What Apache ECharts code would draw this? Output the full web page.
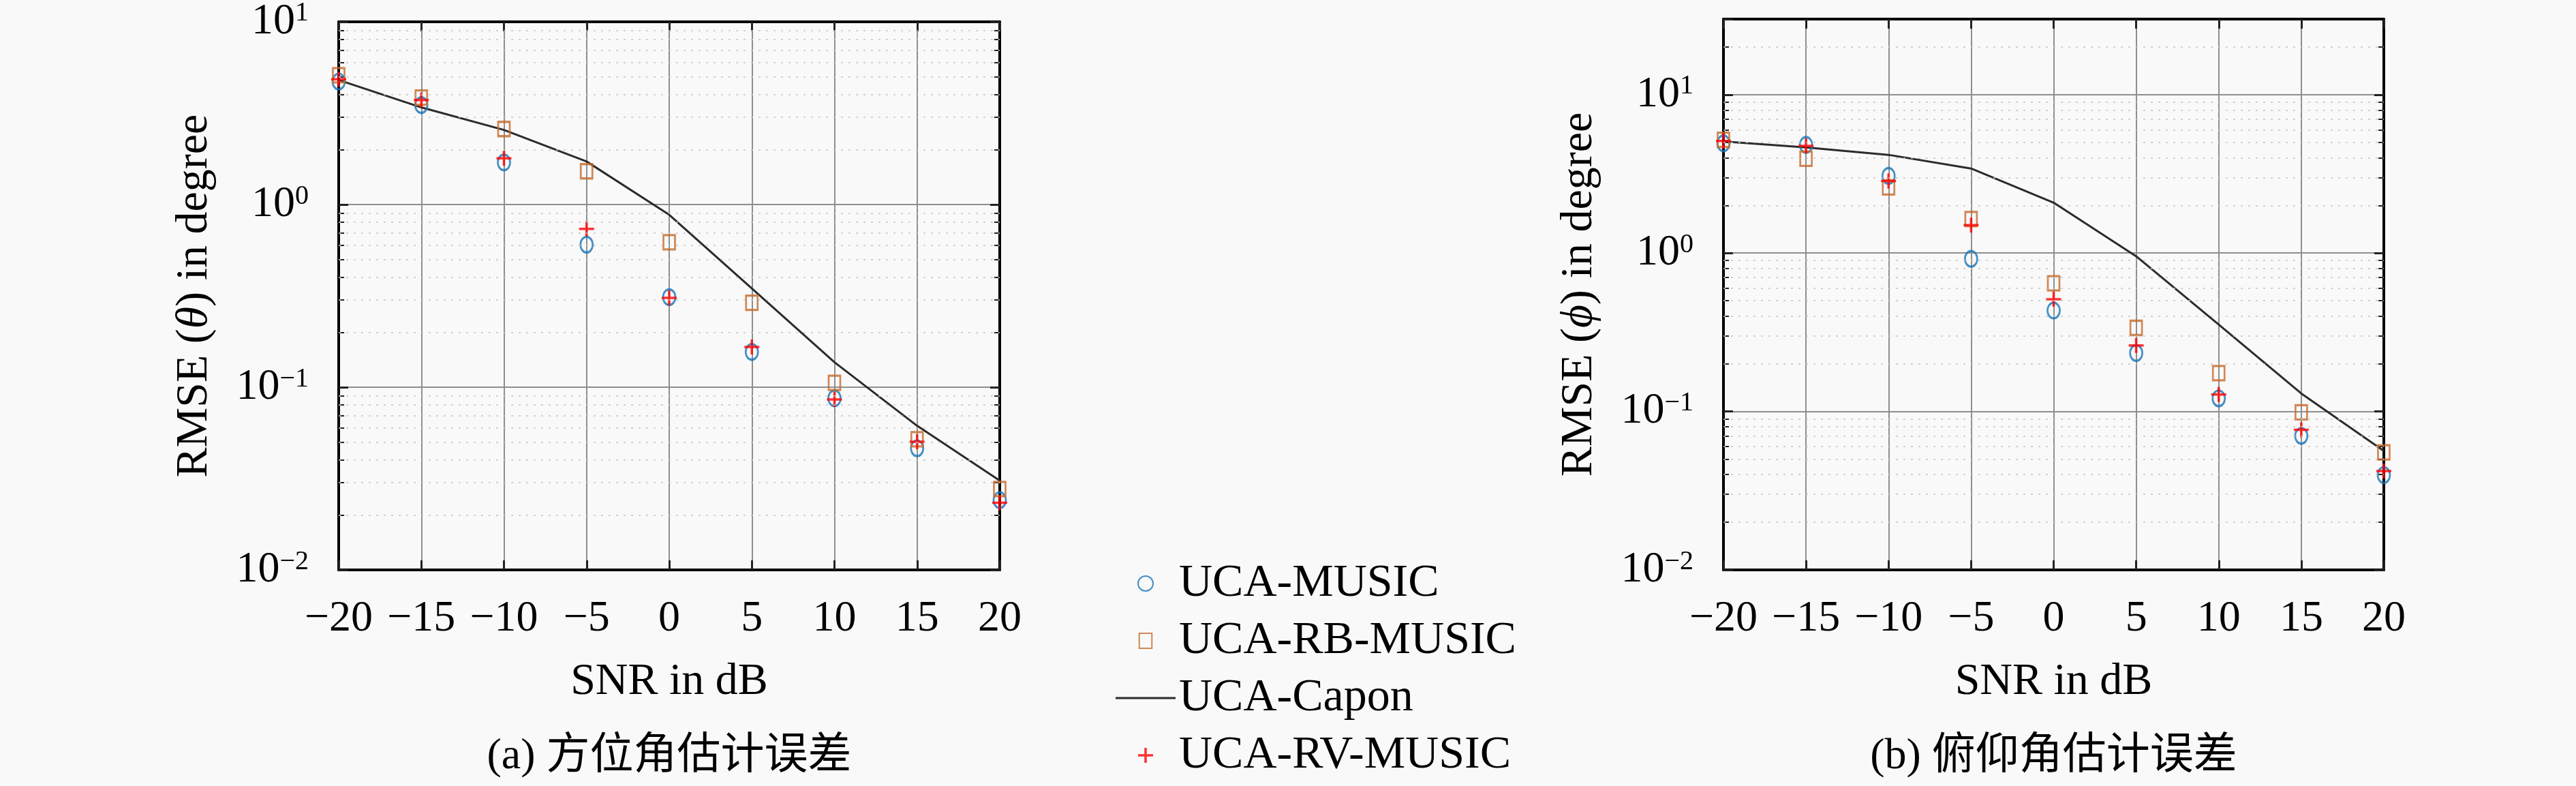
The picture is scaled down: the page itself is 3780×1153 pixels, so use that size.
<!DOCTYPE html>
<html>
<head>
<meta charset="utf-8">
<title>RMSE vs SNR</title>
<script src="https://cdn.jsdelivr.net/npm/echarts@6/dist/echarts.min.js"></script>
<style>
    html, body { margin: 0; padding: 0; background: #f9f9f9; }
    #main { width: 3780px; height: 1153px; }
</style>
</head>
<body>
<div id="main"></div>
<script>
    // SNR (dB) 横轴
    var snr = [-20, -15, -10, -5, 0, 5, 10, 15, 20];
    var names = ['UCA-MUSIC', 'UCA-RB-MUSIC', 'UCA-Capon', 'UCA-RV-MUSIC'];

    // (a) 方位角 RMSE
    var azMusic = [4.71, 3.50, 1.70, 0.603, 0.311, 0.156, 0.087, 0.0463, 0.0241];
    var azRB    = [5.10, 3.85, 2.59, 1.52, 0.621, 0.290, 0.1057, 0.0519, 0.0277];
    var azCapon = [4.80, 3.40, 2.56, 1.72, 0.879, 0.347, 0.137, 0.0615, 0.0308];
    var azRV    = [4.85, 3.73, 1.79, 0.736, 0.308, 0.166, 0.0857, 0.0503, 0.0233];

    // (b) 俯仰角 RMSE
    var elMusic = [4.93, 4.82, 3.07, 0.920, 0.434, 0.234, 0.121, 0.0702, 0.0397];
    var elRB    = [5.19, 3.94, 2.60, 1.64, 0.644, 0.337, 0.1745, 0.0988, 0.0552];
    var elCapon = [5.07, 4.65, 4.17, 3.42, 2.08, 0.955, 0.354, 0.130, 0.0564];
    var elRV    = [5.10, 4.75, 2.85, 1.50, 0.511, 0.261, 0.128, 0.0766, 0.0421];

    var yMaxA = 10, yMaxB = 30;
    var captions = ['(a) 方位角估计误差', '(b) 俯仰角估计误差'];
    var yNames = ['RMSE ({i|θ}) in degree', 'RMSE ({i|ϕ}) in degree'];

    var FONT = '"Liberation Serif", "Noto Sans CJK SC", serif';
    var C_MUSIC = '#1874b8', C_RB = '#c66a2c', C_CAPON = '#2b2b2b', C_RV = '#ff0000';
    var PLUS = 'path://M8.4,0 H11.6 V8.4 H20 V11.6 H11.6 V20 H8.4 V11.6 H0 V8.4 H8.4 Z';
    var SQUARE = 'path://M0,0 H16 V19 H0 Z';

    function pairs(v) {
        return snr.map(function (x, i) { return [x, v[i]]; });
    }

    // 2..9 x 10^n 的小刻度值 (不含上边框)
    function minorVals(maxV) {
        var out = [];
        for (var e = -2; e <= 1; e++) {
            for (var k = 2; k <= 9; k++) {
                var v = k * Math.pow(10, e);
                if (v < maxV * 0.999) out.push(v);
            }
        }
        return out;
    }
    function majorLogs(maxV) {
        var out = [];
        for (var e = -2; Math.pow(10, e) <= maxV; e++) out.push(e);
        return out;
    }

    var myChart = echarts.init(document.getElementById('main'));

    var grids = [
        { left: 497, top: 28, width: 970, height: 808 },
        { left: 2529, top: 28, width: 969, height: 808 }
    ];
    var yMaxs = [yMaxA, yMaxB];
    var sets = [[azMusic, azRB, azCapon, azRV], [elMusic, elRB, elCapon, elRV]];

    var frame = { show: true, onZero: false, lineStyle: { color: '#000', width: 4 } };
    var noLine = { show: false, onZero: false };
    var xAxis = [], yAxis = [], series = [];

    grids.forEach(function (g, gi) {
        xAxis.push({
            type: 'value', gridIndex: gi, min: -20, max: 20, interval: 5, position: 'bottom',
            name: 'SNR in dB', nameLocation: 'middle', nameGap: 132,
            nameTextStyle: { fontFamily: FONT, fontSize: 66, color: '#000' },
            axisLine: frame,
            axisTick: { inside: true, length: 14, lineStyle: { color: '#222', width: 3 } },
            axisLabel: {
                margin: 40, fontFamily: FONT, fontSize: 64, color: '#000',
                formatter: function (v) { return String(v).replace('-', '−'); }
            },
            splitLine: { show: true, lineStyle: { color: '#8e8e8e', width: 2 } }
        });
        xAxis.push({
            type: 'value', gridIndex: gi, min: -20, max: 20, interval: 5, position: 'top',
            axisLine: frame,
            axisTick: { inside: true, length: 14, lineStyle: { color: '#222', width: 3 } },
            axisLabel: { show: false }, splitLine: { show: false }
        });

        var lmax = Math.log10(yMaxs[gi]);
        var minorLog = minorVals(yMaxs[gi]).map(function (v) { return Math.log10(v); });
        yAxis.push({
            type: 'log', logBase: 10, gridIndex: gi, min: 0.01, max: yMaxs[gi], position: 'left',
            name: yNames[gi], nameLocation: 'middle', nameGap: 178, nameRotate: 90,
            nameTextStyle: {
                fontFamily: FONT, fontSize: 66, color: '#000',
                rich: { i: { fontFamily: FONT, fontSize: 66, fontStyle: 'italic', color: '#000' } }
            },
            axisLine: frame,
            axisTick: { inside: true, length: 14, lineStyle: { color: '#222', width: 3 } },
            axisLabel: {
                margin: 44,
                formatter: function (v) {
                    var l = Math.log10(v), e = Math.round(l);
                    if (Math.abs(l - e) > 1e-6) return '';
                    return '{b|10}{s|' + (e < 0 ? '−' + (-e) : e) + '}';
                },
                rich: {
                    b: { fontFamily: FONT, fontSize: 64, lineHeight: 64, color: '#000', verticalAlign: 'bottom' },
                    s: { fontFamily: FONT, fontSize: 40, lineHeight: 40, color: '#000', verticalAlign: 'bottom', padding: [0, 0, 24, 0] }
                }
            },
            splitLine: { show: true, lineStyle: { color: '#8e8e8e', width: 2 } }
        });
        // 左侧小刻度
        yAxis.push({
            type: 'value', gridIndex: gi, min: -2, max: lmax, position: 'left',
            axisLine: noLine,
            axisTick: { show: true, inside: true, length: 8, customValues: minorLog, lineStyle: { color: '#222', width: 2 } },
            axisLabel: { show: false }, splitLine: { show: false }
        });
        // 右侧框线 + 大刻度
        yAxis.push({
            type: 'value', gridIndex: gi, min: -2, max: lmax, position: 'right',
            axisLine: frame,
            axisTick: { show: true, inside: true, length: 14, customValues: majorLogs(yMaxs[gi]), lineStyle: { color: '#222', width: 3 } },
            axisLabel: { show: false }, splitLine: { show: false }
        });
        // 右侧小刻度
        yAxis.push({
            type: 'value', gridIndex: gi, min: -2, max: lmax, position: 'right',
            axisLine: noLine,
            axisTick: { show: true, inside: true, length: 8, customValues: minorLog, lineStyle: { color: '#222', width: 2 } },
            axisLabel: { show: false }, splitLine: { show: false }
        });

        var d = sets[gi];
        var xi = gi * 2, yi = gi * 4;
        series.push({
            name: names[0], type: 'scatter', xAxisIndex: xi, yAxisIndex: yi, data: pairs(d[0]),
            symbol: 'circle', symbolSize: [18, 23], z: 3,
            itemStyle: { color: 'none', borderColor: C_MUSIC, borderWidth: 3 }
        });
        series.push({
            name: names[1], type: 'scatter', xAxisIndex: xi, yAxisIndex: yi, data: pairs(d[1]),
            symbol: SQUARE, symbolSize: [17, 21], z: 3,
            itemStyle: { color: 'none', borderColor: C_RB, borderWidth: 3 }
        });
        series.push({
            name: names[2], type: 'line', xAxisIndex: xi, yAxisIndex: yi, data: pairs(d[2]),
            symbol: 'none', lineStyle: { color: C_CAPON, width: 3 }, itemStyle: { color: C_CAPON },
            z: 2,
            // 对数小网格 (点线)
            markLine: {
                silent: true, symbol: ['none', 'none'], animation: false,
                label: { show: false },
                lineStyle: { color: '#c4c4c4', width: 1.5, type: [3, 8] },
                data: minorVals(yMaxs[gi]).map(function (v) { return { yAxis: v }; })
            }
        });
        series.push({
            name: names[3], type: 'scatter', xAxisIndex: xi, yAxisIndex: yi, data: pairs(d[3]),
            symbol: PLUS, symbolSize: 22, z: 4,
            itemStyle: { color: C_RV }
        });
    });

    option = {
        backgroundColor: '#f9f9f9',
        animation: false,
        grid: grids,
        xAxis: xAxis,
        yAxis: yAxis,
        legend: {
            orient: 'vertical', left: 1632, top: 816,
            itemWidth: 88, itemHeight: 22, itemGap: 14,
            selectedMode: false,
            data: [
                { name: names[0], icon: 'circle' },
                { name: names[1], icon: SQUARE },
                { name: names[2], icon: 'path://M0,0 H88 V3 H0 Z', itemStyle: { color: C_CAPON } },
                { name: names[3], icon: PLUS }
            ],
            textStyle: { fontFamily: FONT, fontSize: 68, lineHeight: 70, color: '#000' }
        },
        graphic: captions.map(function (t, i) {
            return {
                type: 'text', x: grids[i].left + grids[i].width / 2, y: 1110,
                style: { text: t, font: '64px ' + FONT, fill: '#000', textAlign: 'center', textVerticalAlign: 'middle' }
            };
        }),
        series: series
    };

    myChart.setOption(option);
</script>
</body>
</html>
